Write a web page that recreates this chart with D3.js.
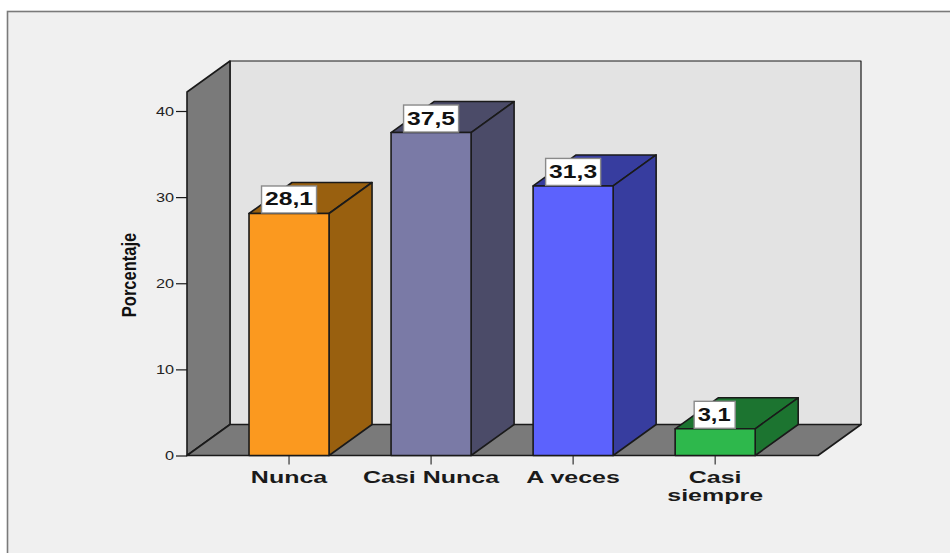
<!DOCTYPE html>
<html><head><meta charset="utf-8">
<script src="https://cdn.jsdelivr.net/npm/d3@7/dist/d3.min.js"></script>
<style>html,body{margin:0;padding:0;background:#fff;overflow:hidden}svg{display:block}text{font-family:"Liberation Sans",Arial,sans-serif}</style>
</head><body><svg id="c" width="950" height="553"></svg>
<script>
const categories = ["Nunca","Casi Nunca","A veces","Casi siempre"];
const values = [28.1,37.5,31.3,3.1];
const valueLabels = ["28,1","37,5","31,3","3,1"];
const frontColors = ["#fb991f","#7a7aa6","#5c62fd","#2eb84c"];
const sideColors = ["#99600f","#4b4b68","#373d9f","#1c7430"];
const yTicks = [0,10,20,30,40];
const axisTitle = "Porcentaje";

const svg = d3.select("#c");
const y = d3.scaleLinear().domain([0,40]).range([455.5,111]);
const x = d3.scaleBand().domain(categories).range([187,817.2]).padding(0.4366);
const dx = 43, dy = -31;
const wallL = 187, wallR = 818, wallB = y(0), wallT = 92;
const line = "#1a1a1a";

svg.append("rect").attr("width",950).attr("height",553).attr("fill","#fff");
svg.append("rect").attr("x",7.5).attr("y",11.5).attr("width",950).attr("height",560)
  .attr("fill","#f0f0f0").attr("stroke","#7a7a7a").attr("stroke-width",1.6);

const poly = (pts,fill,sw=1.6) => svg.append("polygon").attr("points",pts.map(p=>p.join(",")).join(" "))
  .attr("fill",fill).attr("stroke",line).attr("stroke-width",sw).attr("stroke-linejoin","round");

poly([[wallL+dx,wallT+dy],[wallR+dx,wallT+dy],[wallR+dx,wallB+dy],[wallL+dx,wallB+dy]],"#e3e3e3",1.2);
poly([[wallL,wallT],[wallL+dx,wallT+dy],[wallL+dx,wallB+dy],[wallL,wallB]],"#7a7a7a");
poly([[wallL,wallB],[wallR,wallB],[wallR+dx,wallB+dy],[wallL+dx,wallB+dy]],"#7a7a7a");

const axis = d3.axisLeft(y).tickValues(yTicks).tickSize(11).tickPadding(2);
const gy = svg.append("g").attr("transform",`translate(${wallL},0)`).call(axis);
gy.select(".domain").remove();
gy.selectAll("line").attr("stroke",line).attr("stroke-width",1.2);
gy.selectAll("text").attr("fill","#222").attr("font-size",13)
  .attr("x",-13/1.25).attr("transform","scale(1.25,1)");

const xAxis = d3.axisBottom(x).tickSize(9).tickFormat("");
const gx = svg.append("g").attr("transform",`translate(0,${wallB})`).call(xAxis);
gx.select(".domain").remove();
gx.selectAll("line").attr("stroke","#333").attr("stroke-width",1.2);

categories.forEach((c,i)=>{
  const x0 = x(c), w = x.bandwidth(), yv = y(values[i]);
  poly([[x0,yv],[x0+w,yv],[x0+w+dx,yv+dy],[x0+dx,yv+dy]],sideColors[i]);
  poly([[x0+w,yv],[x0+w+dx,yv+dy],[x0+w+dx,wallB+dy],[x0+w,wallB]],sideColors[i]);
  poly([[x0,yv],[x0+w,yv],[x0+w,wallB],[x0,wallB]],frontColors[i]);
});

categories.forEach((c,i)=>{
  const yv = y(values[i]), cx = x(c)+x.bandwidth()/2;
  const long = valueLabels[i].length>3;
  const lw = long?55:41, lh = 27;
  const lx = cx + (long? -27.5 : -21), ly = yv - 27.5;
  svg.append("rect").attr("x",lx).attr("y",ly).attr("width",lw).attr("height",lh)
    .attr("fill","#fff").attr("stroke","#8a8a8a").attr("stroke-width",1.4);
  svg.append("text").attr("x",lx+3.5).attr("y",ly+19.5)
    .attr("font-size",19).attr("font-weight","bold").attr("fill","#111")
    .attr("textLength",long?48:33).attr("lengthAdjust","spacingAndGlyphs").text(valueLabels[i]);
});

const catLines = [["Nunca"],["Casi Nunca"],["A veces"],["Casi","siempre"]];
const catStretch = 1.47;
categories.forEach((c,i)=>{
  const cx = x(c)+x.bandwidth()/2;
  catLines[i].forEach((t,j)=>{
    svg.append("text").attr("text-anchor","middle")
      .attr("transform",`translate(${cx},${482.5+j*18}) scale(${catStretch},1)`)
      .attr("font-size",17).attr("font-weight","bold").attr("fill","#1a1a1a").text(t);
  });
});

svg.append("text").attr("transform","translate(136,275) rotate(-90) scale(0.97,1.15)")
  .attr("text-anchor","middle").attr("font-size",17).attr("font-weight","bold").attr("fill","#111").text(axisTitle);
</script></body></html>
